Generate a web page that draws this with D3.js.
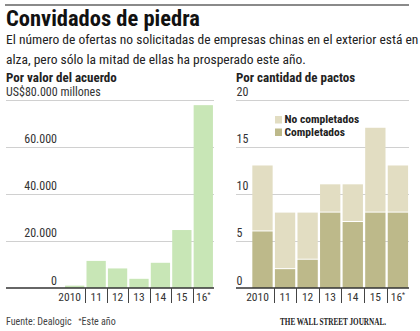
<!DOCTYPE html>
<html>
<head>
<meta charset="utf-8">
<script src="https://cdn.jsdelivr.net/npm/d3@7"></script>
<style>
  body { margin: 0; background: #fff; }
  svg { display: block; }
  text { font-family: "Liberation Sans Narrow", "Roboto Condensed", "Arial Narrow", sans-serif; fill: #222; }
  .grid { stroke: #d0d0d0; stroke-width: 1; }
  .base { stroke: #333; stroke-width: 1.5; }
  .tick { stroke: #444; stroke-width: 1; }
  .tickLabel { font-size: 11.5px; fill: #333; }
  .axisLabel { font-size: 12px; fill: #333; }
</style>
</head>
<body>
<svg id="chart" width="420" height="331"></svg>
<script>
/* ==== Data ==== */
var years = ["2010", "11", "12", "13", "14", "15", "16"];
var dealValues = [1000, 11500, 8300, 3900, 10700, 24600, 77600]; // US$ millones
var completedDeals = [6, 2, 3, 8, 7, 8, 8];
var pendingDeals = [7, 6, 5, 3, 4, 9, 5];
var valueTicks = [0, 20000, 40000, 60000, 80000];
var countTicks = [0, 5, 10, 15, 20];

/* ==== General settings ==== */
var BASE_Y = 288;
var TOP_Y = 99.5;
var GREEN = "#c8e6b6";
var OLIVE = "#bdb98a";
var BEIGE = "#e2ddc2";

var svg = d3.select("#chart");
var fmt = d3.formatLocale({ decimal: ",", thousands: ".", grouping: [3], currency: ["", ""] }).format(",");

/* ==== Header ==== */
svg.append("line").attr("x1", 5).attr("x2", 409).attr("y1", 5).attr("y2", 5)
   .attr("stroke", "#8a8a8a").attr("stroke-width", 2);

svg.append("text").attr("x", 6).attr("y", 26)
   .style("font-size", "22.5px").style("font-weight", "bold").style("fill", "#111")
   .text("Convidados de piedra");

svg.append("text").attr("x", 6).attr("y", 44).style("font-size", "13.5px")
   .text("El número de ofertas no solicitadas de empresas chinas en el exterior está en");
svg.append("text").attr("x", 6).attr("y", 63.5).style("font-size", "13.5px")
   .text("alza, pero sólo la mitad de ellas ha prosperado este año.");

svg.append("text").attr("x", 6).attr("y", 81.5)
   .style("font-size", "13px").style("font-weight", "bold").text("Por valor del acuerdo");
svg.append("text").attr("x", 236).attr("y", 81.5)
   .style("font-size", "13px").style("font-weight", "bold").text("Por cantidad de pactos");

/* ==== Left chart: value ==== */
var xLeft = d3.scaleBand().domain(years).range([64, 214]).paddingInner(0.1).paddingOuter(0.05);
var yLeft = d3.scaleLinear().domain([0, 80000]).range([BASE_Y, TOP_Y]);

var left = svg.append("g").attr("class", "leftChart");

left.selectAll(".grid").data(valueTicks.filter(d => d > 0)).enter()
    .append("line").attr("class", "grid")
    .attr("x1", 6).attr("x2", 214)
    .attr("y1", d => Math.round(yLeft(d)) + 0.5).attr("y2", d => Math.round(yLeft(d)) + 0.5);

left.selectAll(".bar").data(dealValues).enter()
    .append("rect").attr("class", "bar")
    .attr("x", (d, i) => xLeft(years[i]))
    .attr("width", xLeft.bandwidth())
    .attr("y", d => yLeft(d))
    .attr("height", d => BASE_Y - yLeft(d))
    .attr("fill", GREEN);

left.selectAll(".tickLabel").data(valueTicks).enter()
    .append("text").attr("class", "axisLabel")
    .attr("x", d => d === 80000 ? 6 : 57)
    .attr("y", d => yLeft(d) - 3.5)
    .attr("text-anchor", d => d === 80000 ? "start" : "end")
    .text(d => d === 80000 ? "US$" + fmt(d) + " millones" : fmt(d));

/* ==== Right chart: count ==== */
var xRight = d3.scaleBand().domain(years).range([251.2, 409.2]).paddingInner(0.1).paddingOuter(0.05);
var yRight = d3.scaleLinear().domain([0, 20]).range([BASE_Y, TOP_Y]);

var right = svg.append("g").attr("class", "rightChart");

right.selectAll(".grid").data(countTicks.filter(d => d > 0)).enter()
     .append("line").attr("class", "grid")
     .attr("x1", 236).attr("x2", 409)
     .attr("y1", d => Math.round(yRight(d)) + 0.5).attr("y2", d => Math.round(yRight(d)) + 0.5);

var stacked = d3.stack().keys(["completed", "pending"])(
  years.map((y, i) => ({ year: y, completed: completedDeals[i], pending: pendingDeals[i] }))
);
var stackColors = { completed: OLIVE, pending: BEIGE };

right.selectAll(".series").data(stacked).enter()
     .append("g").attr("fill", s => stackColors[s.key])
     .selectAll("rect").data(s => s).enter()
     .append("rect")
     .attr("x", d => xRight(d.data.year))
     .attr("width", xRight.bandwidth())
     .attr("y", d => yRight(d[1]))
     .attr("height", d => yRight(d[0]) - yRight(d[1]) - (d[0] > 0 ? 1 : 0));

right.selectAll(".tickLabel").data(countTicks).enter()
     .append("text").attr("class", "axisLabel")
     .attr("x", 236.5)
     .attr("y", d => yRight(d) - 3.5)
     .text(d => d);

/* legend */
var legendItems = [{ label: "No completados", color: BEIGE }, { label: "Completados", color: OLIVE }];
var legend = right.append("g").attr("transform", "translate(275,116)");
legend.selectAll("rect").data(legendItems).enter()
      .append("rect").attr("x", 0).attr("y", (d, i) => i * 12.5)
      .attr("width", 7).attr("height", 7.5).attr("fill", d => d.color);
legend.selectAll("text").data(legendItems).enter()
      .append("text").attr("x", 9.5).attr("y", (d, i) => i * 12.5 + 7)
      .style("font-size", "11.5px").style("font-weight", "bold")
      .text(d => d.label);

/* ==== Category axes ==== */
function drawCategoryAxis(g, x, x0, x1) {
  g.append("line").attr("class", "base")
   .attr("x1", x0).attr("x2", x1).attr("y1", BASE_Y).attr("y2", BASE_Y);
  var step = x.step();
  g.selectAll(".tick").data(years.slice(1)).enter()
   .append("line").attr("class", "tick")
   .attr("x1", d => Math.round(x(d) - step * x.paddingInner() / 2) + 0.5)
   .attr("x2", d => Math.round(x(d) - step * x.paddingInner() / 2) + 0.5)
   .attr("y1", BASE_Y).attr("y2", BASE_Y + 15);
  var labels = g.selectAll(".catLabel").data(years).enter()
   .append("text").attr("class", "tickLabel")
   .attr("x", (d, i) => x(d) + x.bandwidth() / 2 + (i === 0 ? -5 : 0))
   .attr("y", BASE_Y + 13)
   .attr("text-anchor", "middle")
   .text(d => d);
  labels.filter((d, i) => i === years.length - 1)
   .append("tspan").attr("dy", -4).style("font-size", "7px").text("*");
}
drawCategoryAxis(left, xLeft, 6, 214);
drawCategoryAxis(right, xRight, 236, 409);

/* ==== Footer ==== */
var source = svg.append("text").attr("x", 6).attr("y", 325).style("font-size", "10px").style("fill", "#444")
   .attr("xml:space", "preserve");
source.append("tspan").text("Fuente: Dealogic   ");
source.append("tspan").attr("dy", -2).style("font-size", "7px").text("*");
source.append("tspan").attr("dy", 2).text("Este año");

svg.append("g").attr("transform", "translate(280,325) scale(0.72,1)")
   .append("text").attr("x", 0).attr("y", 0)
   .style("font-family", "'Liberation Serif', 'DejaVu Serif', serif")
   .style("font-size", "10px").style("font-weight", "bold").style("fill", "#222")
   .text("THE WALL STREET JOURNAL.");
</script>
</body>
</html>
